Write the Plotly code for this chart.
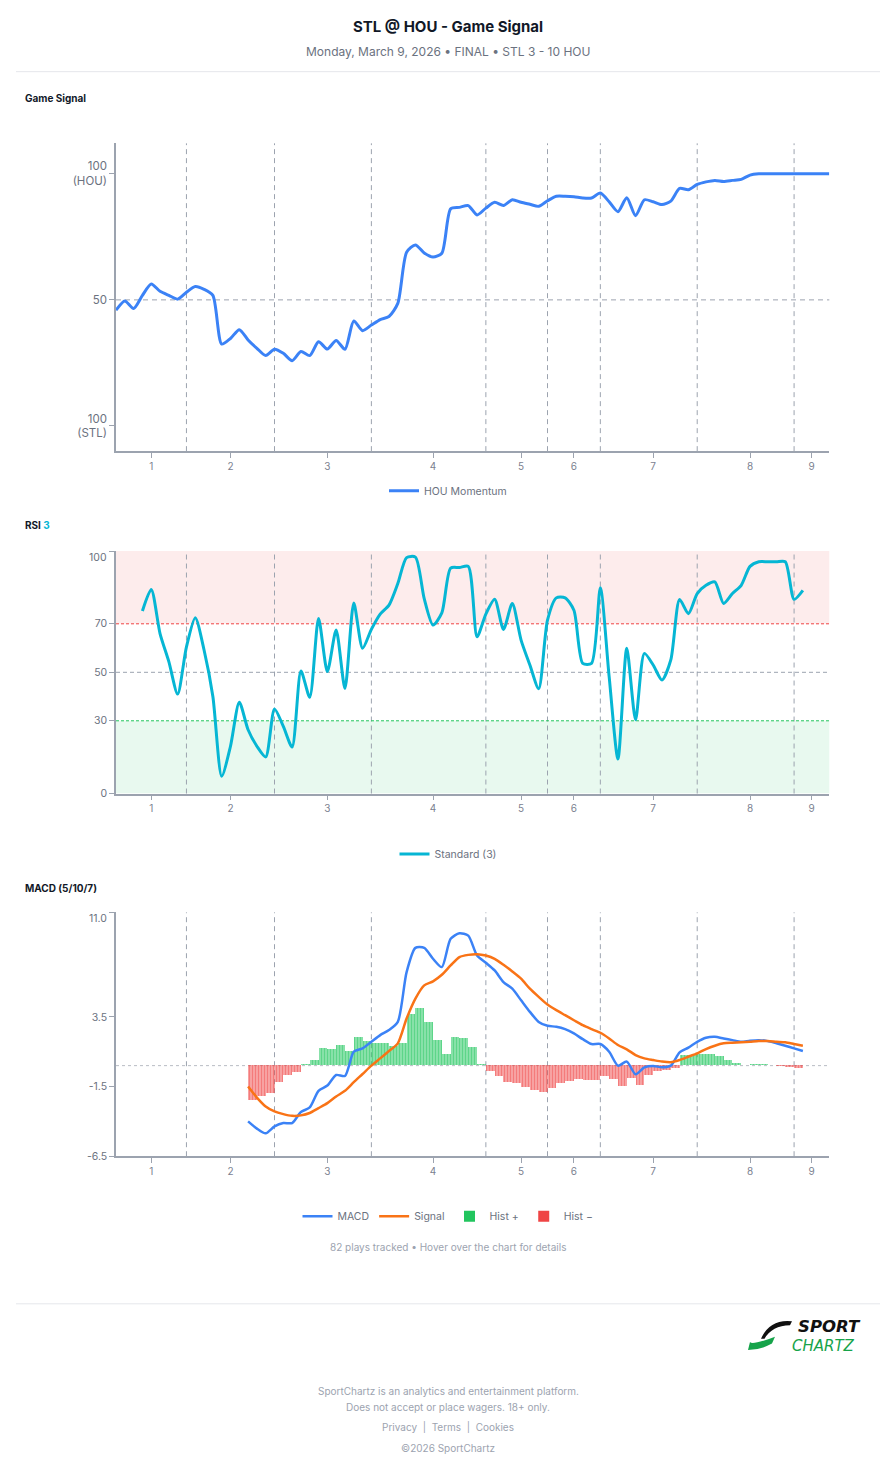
import plotly.graph_objects as go

# ---------------- data ----------------
plays = list(range(82))
game_signal = [45.9, 49.6, 46.6, 51.8, 56.3, 53.4, 51.8, 50.3, 53.0, 55.3,
               54.2, 51.8, 32.5, 34.7, 38.2, 34.1, 30.8, 27.9, 30.4, 28.8,
               25.9, 29.5, 27.9, 33.4, 30.5, 33.9, 30.4, 41.6, 37.8, 40.0,
               42.2, 43.4, 48.6, 68.9, 71.8, 68.6, 67.0, 68.5, 86.1, 86.7,
               87.4, 83.7, 86.4, 88.7, 87.4, 89.7, 88.7, 87.9, 87.1, 89.3,
               91.1, 91.1, 90.9, 90.4, 90.4, 92.4, 88.9, 85.0, 90.5, 83.4,
               89.7, 88.9, 87.8, 89.2, 94.2, 93.7, 95.8, 96.8, 97.4, 97.0,
               97.4, 97.8, 99.5, 100, 100, 100, 100, 100, 100, 100,
               100, 100]

rsi_x = list(range(3, 79))
rsi_vals = [75.3, 84.2, 66.0, 54.4, 41.0, 60.5, 72.5, 59.2, 40.0, 7.1,
            19.5, 37.7, 26.3, 19.5, 15.1, 34.9, 27.7, 19.2, 50.5, 39.7,
            72.2, 50.3, 67.4, 43.3, 78.6, 59.9, 67.7, 74.0, 77.7, 86.6,
            97.3, 97.5, 80.4, 69.5, 74.5, 93.0, 93.2, 93.7, 64.7, 74.0,
            80.1, 67.7, 78.4, 63.3, 53.0, 43.2, 71.5, 80.7, 80.7, 75.6,
            53.7, 53.7, 84.9, 48.2, 14.2, 59.9, 30.4, 57.8, 53.0, 46.8,
            55.1, 80.0, 74.2, 82.5, 85.9, 87.3, 78.4, 82.5, 85.9, 93.7,
            95.6, 95.6, 95.6, 95.6, 80.1, 83.8]

macd_x = list(range(15, 79))
macd_vals = [-4.0, -4.52, -4.86, -4.36, -4.12, -4.12, -3.33, -3.0, -1.81, -1.43,
             -0.67, -0.74, 1.0, 1.24, 1.71, 2.19, 2.55, 3.14, 6.71, 8.45,
             8.45, 7.67, 7.07, 9.1, 9.5, 9.33, 7.9, 7.38, 6.83, 6.0,
             5.52, 4.69, 3.86, 3.14, 2.86, 2.79, 2.62, 2.31, 1.9, 1.55,
             1.55, 1.0, 0.0, 0.29, -0.62, -0.12, -0.02, -0.12, 0.0, 0.95,
             1.29, 1.71, 2.0, 2.07, 1.95, 1.83, 1.71, 1.79, 1.83, 1.76,
             1.6, 1.43, 1.24, 1.05]
signal_vals = [-1.5, -2.29, -2.93, -3.29, -3.48, -3.6, -3.57, -3.4, -3.05, -2.69,
               -2.21, -1.81, -1.19, -0.6, 0.0, 0.52, 1.05, 1.6, 3.38, 4.81,
               5.76, 6.05, 6.52, 7.19, 7.79, 7.95, 8.0, 7.9, 7.67, 7.24,
               6.76, 6.24, 5.52, 4.93, 4.38, 3.98, 3.62, 3.26, 2.9, 2.62,
               2.36, 1.95, 1.48, 1.17, 0.76, 0.52, 0.4, 0.29, 0.24, 0.4,
               0.64, 0.88, 1.19, 1.43, 1.6, 1.64, 1.67, 1.71, 1.76, 1.76,
               1.71, 1.67, 1.55, 1.43]

hist_x = list(range(15, 78))
hist_vals = [-2.5, -2.21, -1.98, -1.2, -0.7, -0.48, 0.12, 0.41, 1.24, 1.19,
             1.48, 1.0, 2.03, 1.76, 1.62, 1.57, 1.4, 1.57, 3.67, 4.14,
             3.14, 1.8, 0.82, 2.03, 1.95, 1.31, 0.1, -0.43, -0.74, -1.19,
             -1.26, -1.55, -1.79, -1.93, -1.62, -1.26, -1.1, -1.02, -1.07, -1.07,
             -0.79, -1.02, -1.52, -0.9, -1.38, -0.67, -0.43, -0.36, -0.19, 0.76,
             0.76, 0.81, 0.81, 0.64, 0.36, 0.17, 0.05, 0.1, 0.07, 0.02,
             -0.07, -0.14, -0.19]

inning_boundaries = [8, 18, 29, 42, 49, 55, 66, 77]
inning_ticks = [4, 13, 24, 36, 46, 52, 61, 72, 79]
inning_labels = ["1", "2", "3", "4", "5", "6", "7", "8", "9"]

# ---------------- styling ----------------
W, H = 896, 1480
FONT = "Inter, Roboto, 'Open Sans', sans-serif"
LOGO_FONT = "'DejaVu Sans', sans-serif"
BLUE = "#3b82f6"
ORANGE = "#f97316"
CYAN = "#06b6d4"
GREEN = "#22c55e"
RED = "#ef4444"
AX = "#9ca3af"
TICK = "#6b7280"


def py(p):
    return 1 - p / H


def px(p):
    return p / W


X_DOM = [px(116), px(829.3)]

fig = go.Figure()

# Game signal
fig.add_trace(go.Scatter(x=plays, y=game_signal, mode="lines", name="HOU Momentum",
                         line=dict(color=BLUE, width=3, shape="spline", smoothing=0.7),
                         xaxis="x", yaxis="y", legend="legend"))
# RSI
fig.add_trace(go.Scatter(x=rsi_x, y=rsi_vals, mode="lines", name="Standard (3)",
                         line=dict(color=CYAN, width=3, shape="spline", smoothing=0.7),
                         xaxis="x2", yaxis="y2", legend="legend2"))
# MACD histogram
pos = [v if v >= 0 else None for v in hist_vals]
neg = [v if v < 0 else None for v in hist_vals]
fig.add_trace(go.Bar(x=hist_x, y=pos, width=1, offset=0, name="Hist +", showlegend=False,
                     marker=dict(color="rgba(34,197,94,0.50)", line=dict(width=0),
                                 pattern=dict(shape="|", fgcolor="rgba(34,197,94,0.95)",
                                              size=3, solidity=0.45, fillmode="overlay")),
                     xaxis="x3", yaxis="y3"))
fig.add_trace(go.Bar(x=hist_x, y=neg, width=1, offset=0, name="Hist −", showlegend=False,
                     marker=dict(color="rgba(239,68,68,0.45)", line=dict(width=0),
                                 pattern=dict(shape="|", fgcolor="rgba(239,68,68,0.95)",
                                              size=3, solidity=0.45, fillmode="overlay")),
                     xaxis="x3", yaxis="y3"))
fig.add_trace(go.Scatter(x=macd_x, y=macd_vals, mode="lines", name="MACD",
                         line=dict(color=BLUE, width=2.5, shape="spline", smoothing=0.7),
                         xaxis="x3", yaxis="y3", legend="legend3"))
fig.add_trace(go.Scatter(x=macd_x, y=signal_vals, mode="lines", name="Signal",
                         line=dict(color=ORANGE, width=2.5, shape="spline", smoothing=0.7),
                         xaxis="x3", yaxis="y3", legend="legend3"))
fig.add_trace(go.Scatter(x=[None], y=[None], mode="markers", name="Hist +",
                         marker=dict(symbol="square", size=11, color=GREEN),
                         xaxis="x3", yaxis="y3", legend="legend3"))
fig.add_trace(go.Scatter(x=[None], y=[None], mode="markers", name="Hist −",
                         marker=dict(symbol="square", size=11, color=RED),
                         xaxis="x3", yaxis="y3", legend="legend3"))


def xaxis_cfg(anchor):
    return dict(domain=X_DOM, range=[0, 81], anchor=anchor, showgrid=False, zeroline=False,
                showline=True, linecolor=AX, linewidth=1.5, ticks="outside", ticklen=5,
                tickcolor=AX, tickwidth=1, tickvals=inning_ticks, ticktext=inning_labels,
                tickfont=dict(size=10, color="#7b8190", family=FONT), fixedrange=True)


def yaxis_cfg(dom, rng, tv, tt, anchor, size=11):
    return dict(domain=dom, range=rng, anchor=anchor, showgrid=False, zeroline=False,
                showline=True, linecolor=AX, linewidth=1.5, ticks="outside", ticklen=5,
                tickcolor=AX, tickwidth=1, tickvals=tv, ticktext=tt,
                tickfont=dict(size=size, color=TICK, family=FONT), fixedrange=True)


legend_common = dict(orientation="h", xanchor="center", x=0.5, yanchor="middle",
                     bgcolor="rgba(0,0,0,0)", font=dict(size=10.5, color=TICK, family=FONT),
                     itemclick=False, itemdoubleclick=False)

fig.update_layout(
    width=W, height=H, margin=dict(l=0, r=0, t=0, b=0),
    paper_bgcolor="white", plot_bgcolor="white",
    font=dict(family=FONT, color=TICK),
    barmode="overlay", bargap=0, hovermode="x",
    xaxis=xaxis_cfg("y"),
    xaxis2=xaxis_cfg("y2"),
    xaxis3=xaxis_cfg("y3"),
    yaxis=yaxis_cfg([py(453.3), py(144)], [-10, 112.1], [0, 50, 100],
                    ["100<br>(STL)", "50", "100<br>(HOU)"], "x", size=11.5),
    yaxis2=yaxis_cfg([py(797.3), py(553.7)], [0, 100], [0, 30, 50, 70, 100],
                     ["0", "30", "50", "70", ""], "x2", size=10.5),
    yaxis3=yaxis_cfg([py(1161.7), py(916.7)], [-6.5, 11], [-6.5, -1.5, 3.5, 11],
                     ["-6.5", "-1.5", "3.5", ""], "x3", size=10.5),
    legend=dict(legend_common, y=py(493)),
    legend2=dict(legend_common, y=py(858)),
    legend3=dict(legend_common, y=py(1222)),
)

shapes = []
# RSI zones
shapes.append(dict(type="rect", xref="x2 domain", yref="y2", x0=0, x1=1, y0=70, y1=100,
                   fillcolor="rgba(239,68,68,0.10)", line=dict(width=0), layer="below"))
shapes.append(dict(type="rect", xref="x2 domain", yref="y2", x0=0, x1=1, y0=0, y1=30,
                   fillcolor="rgba(34,197,94,0.10)", line=dict(width=0), layer="below"))
# inning boundaries
for xa, ya in [("x", "y"), ("x2", "y2"), ("x3", "y3")]:
    for b in inning_boundaries:
        shapes.append(dict(type="line", xref=xa, yref=ya + " domain", x0=b, x1=b, y0=0, y1=1,
                           line=dict(color=AX, width=1, dash="5px,4px"), layer="below"))
# reference lines
shapes.append(dict(type="line", xref="x domain", yref="y", x0=0, x1=1, y0=50, y1=50,
                   line=dict(color=AX, width=1, dash="5px,4px"), layer="below"))
shapes.append(dict(type="line", xref="x2 domain", yref="y2", x0=0, x1=1, y0=70, y1=70,
                   line=dict(color=RED, width=1, dash="3px,2px"), layer="below"))
shapes.append(dict(type="line", xref="x2 domain", yref="y2", x0=0, x1=1, y0=50, y1=50,
                   line=dict(color=AX, width=1, dash="4px,3px"), layer="below"))
shapes.append(dict(type="line", xref="x2 domain", yref="y2", x0=0, x1=1, y0=30, y1=30,
                   line=dict(color=GREEN, width=1, dash="3px,2px"), layer="below"))
shapes.append(dict(type="line", xref="x3 domain", yref="y3", x0=0, x1=1, y0=0, y1=0,
                   line=dict(color="#b8bcc4", width=1, dash="3px,3px"), layer="below"))
# page separators
for yy in (72, 1310):
    shapes.append(dict(type="line", xref="paper", yref="paper", x0=px(16), x1=px(880),
                       y0=py(yy), y1=py(yy), line=dict(color="#e5e7eb", width=1)))


# logo swooshes
def path(pts):
    s = ""
    for cmd, coords in pts:
        s += cmd + " " + " ".join(
            f"{px(coords[i]):.5f},{py(coords[i + 1]):.5f}" for i in range(0, len(coords), 2)) + " "
    return s + "Z"


shapes.append(dict(type="path", xref="paper", yref="paper", line=dict(width=0), fillcolor="#111111",
                   path=path([("M", (792, 1327.5)), ("Q", (770, 1325, 761, 1345)),
                              ("L", (764.5, 1345)), ("Q", (772, 1332, 790, 1331.5))])))
shapes.append(dict(type="path", xref="paper", yref="paper", line=dict(width=0), fillcolor="#16a34a",
                   path=path([("M", (748, 1356.5)), ("L", (750, 1348.5)), ("Q", (752, 1352, 775, 1343)),
                              ("L", (772, 1350)), ("Q", (760, 1356.5, 748, 1356.5))])))
fig.update_layout(shapes=shapes)

ann = []


def text(x, y, t, size, color, xanchor="center", yanchor="middle", family=FONT):
    ann.append(dict(xref="paper", yref="paper", x=px(x), y=py(y), text=t, showarrow=False,
                    xanchor=xanchor, yanchor=yanchor, borderpad=0,
                    font=dict(size=size, color=color, family=family)))


text(448, 27, "<b>STL @ HOU - Game Signal</b>", 15, "#111827")
text(448, 52, "Monday, March 9, 2026 • FINAL • STL 3 - 10 HOU", 12, TICK)
text(24, 99, "<b>Game Signal</b>", 10, "#111827", xanchor="left")
text(24, 527, "<b>RSI <span style='color:#06b6d4'>3</span></b>", 10, "#111827", xanchor="left")
text(24, 892, "<b>MACD (5/10/7)</b>", 10, "#111827", xanchor="left")
text(108, 560, "100", 10.5, TICK, xanchor="right")
text(108, 923, "11.0", 10.5, TICK, xanchor="right")
text(448, 1253, "82 plays tracked • Hover over the chart for details", 10, "#9ca3af")
text(448, 1398, "SportChartz is an analytics and entertainment platform.", 10, "#9ca3af")
text(448, 1414, "Does not accept or place wagers. 18+ only.", 10, "#9ca3af")
text(448, 1434, "Privacy  |  Terms  |  Cookies", 10, "#9ca3af")
text(448, 1455, "©2026 SportChartz", 10, "#9ca3af")
text(862, 1333, "<b><i>SPORT</i></b>", 16.5, "#111111", xanchor="right", family=LOGO_FONT)
text(856, 1352, "<i>CHARTZ</i>", 15, "#16a34a", xanchor="right", family=LOGO_FONT)
fig.update_layout(annotations=ann)

fig.write_html("out.html")
